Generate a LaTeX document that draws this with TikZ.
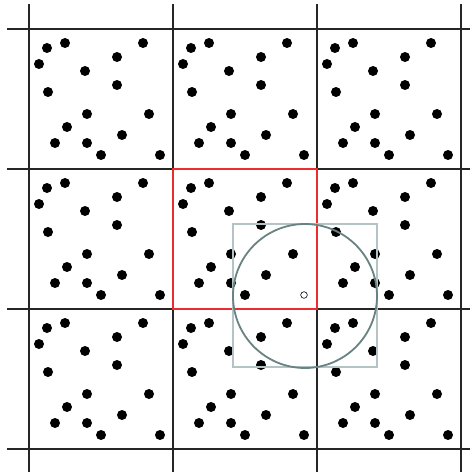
\documentclass[tikz,border=0pt]{standalone}
\usetikzlibrary{calc}
\definecolor{pbcred}{RGB}{235,45,45}
\definecolor{pbccirc}{RGB}{105,130,130}
\definecolor{pbcbox}{RGB}{180,196,196}

\begin{document}
\begin{tikzpicture}[x=1pt,y=-1pt,
    gridline/.style={line width=1.8pt, black!85},
    mainbox/.style={line width=1.8pt, pbcred},
    cutoff/.style={line width=1.8pt, pbccirc},
    cutbox/.style={line width=1.1pt, pbcbox},
    atom/.style={fill=black},
    probe/.style={fill=white, draw=black, line width=0.6pt},
  ]
  \useasboundingbox (0,0) rectangle (473,476);

  % Resetka periodicnih celija
  \foreach \gx in {29,173,317,461}
    \draw[gridline] (\gx,4) -- (\gx,472);
  \foreach \gy in {29,169,309,449}
    \draw[gridline] (7,\gy) -- (470,\gy);

  % Cestice (ista slika u svakoj celiji)
  \foreach \ci in {0,1,2}
    \foreach \cj in {0,1,2}
      \foreach \px/\py in {18/19, 36/14, 10/35, 114/14, 88/28, 56/42,
                           88/56, 19/63, 58/85, 120/85, 38/98, 93/106,
                           26/114, 58/114, 72/126, 131/126}
        \fill[atom] (29+144*\ci+\px, 29+140*\cj+\py) circle (5);

  % Osnovna celija
  \draw[mainbox] (173,169) rectangle (317,309);

  % Promatrana cestica i radijus odsijecanja
  \fill[white] (304,295) circle (5.5);
  \draw[probe] (304,295) circle (3.3);
  \draw[cutbox] (233,224) rectangle (377,367);
  \draw[cutoff] (305,296) circle (72);
\end{tikzpicture}
\end{document}
